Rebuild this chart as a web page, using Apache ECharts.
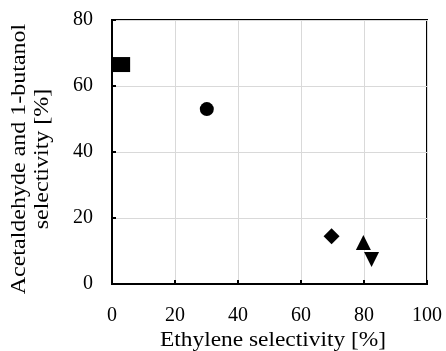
<!DOCTYPE html>
<html>
<head>
<meta charset="utf-8">
<script src="https://cdn.jsdelivr.net/npm/echarts@6/dist/echarts.min.js"></script>
<style>html,body{margin:0;padding:0;background:#fff}#c{width:446px;height:351px}</style>
</head>
<body>
<div id="c"></div>
<script>
var xTicks = [0, 20, 40, 60, 80, 100];
var yTicks = [0, 20, 40, 60, 80];
var squarePts = [[2.9, 66.5]];
var circlePts = [[30.1, 53.0]];
var diamondPts = [[69.7, 14.5]];
var triUpPts = [[79.8, 12.6]];
var triDownPts = [[82.4, 7.4]];
var xName = 'Ethylene selectivity [%]';
var yName = 'Acetaldehyde and 1-butanol\nselectivity [%]';

var font = 'Liberation Serif';
var chart = echarts.init(document.getElementById('c'));
function ser(data, symbol, size, rot) {
  return { type: 'scatter', data: data, symbol: symbol, symbolSize: size, symbolRotate: rot || 0,
    itemStyle: { color: '#000', opacity: 1 }, silent: true };
}
chart.setOption({
  animation: false,
  grid: { left: 112, right: 19, top: 20, bottom: 67, show: true, borderColor: '#000', borderWidth: 2,
    containLabel: false, outerBoundsMode: 'none' },
  graphic: [
    { type: 'text', x: 273, y: 341, scaleX: 1.17, scaleY: 1, silent: true,
      style: { text: xName, fontFamily: font, fontSize: 20, fill: '#000', align: 'center', verticalAlign: 'middle' } },
    { type: 'text', x: 31, y: 159, rotation: Math.PI / 2, scaleX: 1.2, scaleY: 1, silent: true,
      style: { text: yName, fontFamily: font, fontSize: 20, lineHeight: 23, fill: '#000', align: 'center', verticalAlign: 'middle' } }
  ],
  xAxis: {
    type: 'value', min: xTicks[0], max: xTicks[xTicks.length - 1], interval: 20,
    axisLine: { show: true, lineStyle: { color: '#000', width: 2 } },
    axisTick: { show: true, inside: true, length: 4, lineStyle: { color: '#000', width: 2 } },
    axisLabel: { fontFamily: font, fontSize: 20, color: '#000', margin: 22 },
    splitLine: { show: true, lineStyle: { color: '#d9d9d9', width: 1 } }
  },
  yAxis: {
    type: 'value', min: yTicks[0], max: yTicks[yTicks.length - 1], interval: 20,
    axisLine: { show: true, lineStyle: { color: '#000', width: 2 } },
    axisTick: { show: true, inside: true, length: 4, lineStyle: { color: '#000', width: 2 } },
    axisLabel: { fontFamily: font, fontSize: 20, color: '#000', margin: 19 },
    splitLine: { show: true, lineStyle: { color: '#d9d9d9', width: 1 } }
  },
  series: [
    ser(squarePts, 'rect', [18, 15]),
    ser(circlePts, 'circle', 14),
    ser(diamondPts, 'diamond', [16, 16]),
    ser(triUpPts, 'triangle', 15),
    ser(triDownPts, 'triangle', 15, 180)
  ]
});
</script>
</body>
</html>
